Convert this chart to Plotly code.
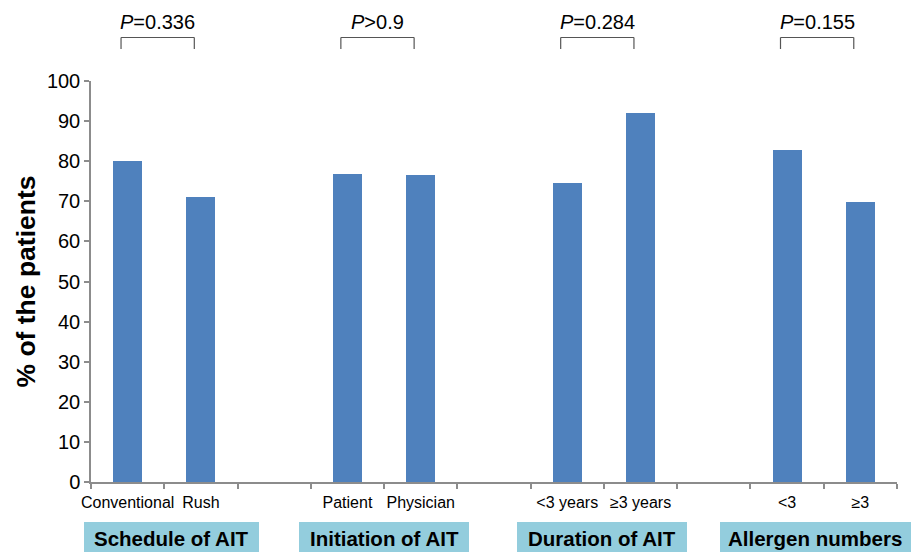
import plotly.graph_objects as go

categories = ["Conventional", "Rush", " ", "Patient", "Physician", "  ",
              "<3 years", "≥3 years", "   ", "<3", "≥3"]
values = [80.0, 71.0, None, 76.8, 76.6, None, 74.5, 91.9, None, 82.8, 69.9]
y_ticks = [0, 10, 20, 30, 40, 50, 60, 70, 80, 90, 100]
group_labels = ["Schedule of AIT", "Initiation of AIT", "Duration of AIT", "Allergen numbers"]
group_pairs = [(0, 1), (3, 4), (6, 7), (9, 10)]
p_labels = ["<i>P</i>=0.336", "<i>P</i>>0.9", "<i>P</i>=0.284", "<i>P</i>=0.155"]

W, H = 911, 552
L, R, T, B = 91, 14, 81, 70
plot_w = W - L - R
plot_h = H - T - B
n = len(categories)

def px_to_paper_x(px):
    return (px - L) / plot_w

def py_to_paper_y(py):
    return (H - B - py) / plot_h

FONT = "Arial, Liberation Sans"

fig = go.Figure()
fig.add_trace(go.Bar(
    x=categories, y=values, width=0.395,
    marker=dict(color="#4F81BD", line=dict(width=0)),
    hoverinfo="skip",
))

shapes = []
annotations = []

# brackets and P values
for (a, b), lab in zip(group_pairs, p_labels):
    xa = a - 0.09
    xb = b - 0.09
    y_top = py_to_paper_y(37.5)
    y_bot = py_to_paper_y(49)
    for seg in [(xa, y_bot, xa, y_top), (xa, y_top, xb, y_top), (xb, y_top, xb, y_bot)]:
        shapes.append(dict(type="line", xref="x", yref="paper",
                           x0=seg[0], y0=seg[1], x1=seg[2], y1=seg[3],
                           line=dict(color="#555555", width=1.2)))
    annotations.append(dict(x=(xa + xb) / 2, y=py_to_paper_y(22), xref="x", yref="paper",
                            text=lab, showarrow=False,
                            font=dict(family=FONT, size=20, color="black"),
                            xanchor="center", yanchor="middle"))

# group label boxes
box_px = [(84, 259), (299, 469), (517, 687), (720, 915)]
for (x0, x1), lab in zip(box_px, group_labels):
    shapes.append(dict(type="rect", xref="paper", yref="paper",
                       x0=px_to_paper_x(x0), x1=px_to_paper_x(x1),
                       y0=py_to_paper_y(552), y1=py_to_paper_y(522),
                       fillcolor="#93CDDD", line=dict(width=0), layer="below"))
    annotations.append(dict(x=px_to_paper_x((x0 + min(x1, 910)) / 2), y=py_to_paper_y(538),
                            xref="paper", yref="paper", text="<b>" + lab + "</b>",
                            showarrow=False,
                            font=dict(family=FONT, size=20.5, color="black"),
                            xanchor="center", yanchor="middle"))

fig.update_layout(
    width=W, height=H,
    margin=dict(l=L, r=R, t=T, b=B),
    plot_bgcolor="white", paper_bgcolor="white",
    showlegend=False,
    shapes=shapes, annotations=annotations,
    bargap=0,
    xaxis=dict(
        type="category", categoryorder="array", categoryarray=categories,
        range=[-0.5, n - 0.5], automargin=False, tickangle=0,
        showline=True, linecolor="#8C8C8C", linewidth=1.5,
        ticks="outside", tickson="boundaries", ticklen=5, tickcolor="#8C8C8C", tickwidth=1.5,
        ticklabelstandoff=5,
        tickfont=dict(family=FONT, size=16, color="black"),
        showgrid=False, zeroline=False, fixedrange=True,
    ),
    yaxis=dict(
        range=[0, 100], tickvals=y_ticks, automargin=False,
        showline=True, linecolor="#8C8C8C", linewidth=1.5,
        ticks="outside", ticklen=5, tickcolor="#8C8C8C", tickwidth=1.5,
        tickfont=dict(family=FONT, size=20, color="black"),
        showgrid=False, zeroline=False,
        title=dict(text="<b>% of the patients</b>",
                   font=dict(family=FONT, size=26.5, color="black"),
                   standoff=4),
    ),
)

fig.write_html("out.html", config={"displayModeBar": False},
               post_script="document.body.style.margin='0px';document.body.style.overflow='hidden';")
